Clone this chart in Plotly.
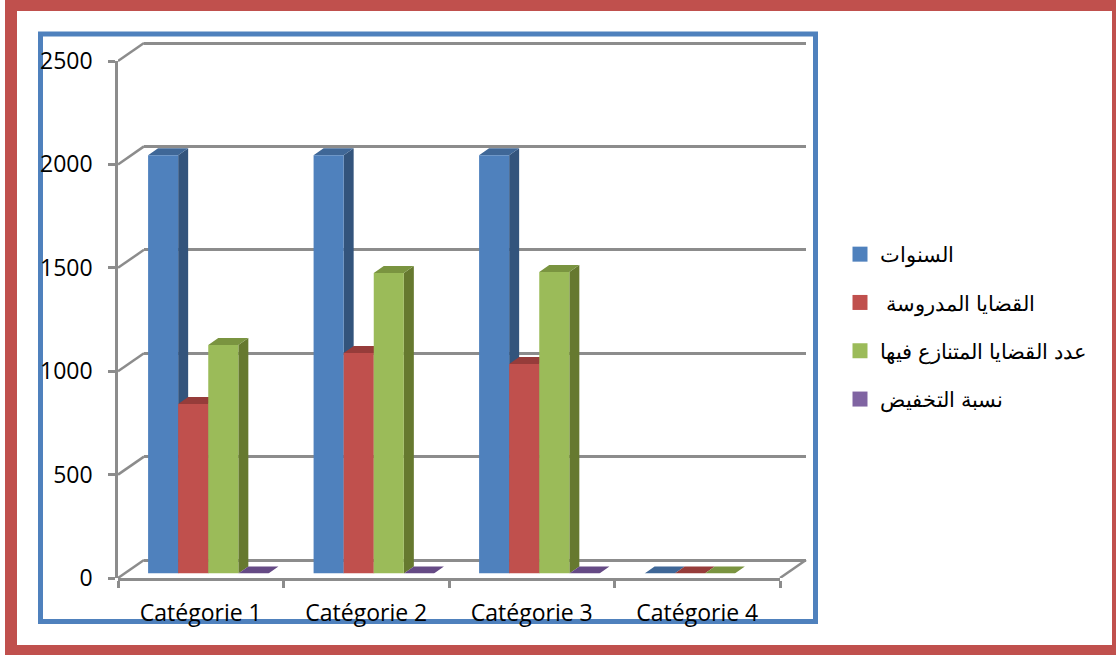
import plotly.graph_objects as go

categories = ["Catégorie 1", "Catégorie 2", "Catégorie 3", "Catégorie 4"]
series_names = ["السنوات", "\u00a0القضايا المدروسة", "عدد القضايا المتنازع فيها", "نسبة التخفيض"]
years = [2022, 2022, 2022, 0]
studied = [820, 1066, 1013, 0]
disputed = [1105, 1453, 1458, 0]
reduction = [0, 0, 0, None]
y_ticks = [0, 500, 1000, 1500, 2000, 2500]

front_colors = ["#4F81BD", "#C0504D", "#9BBB59", "#8064A2"]
side_colors = ["#33547C", "#7F3432", "#66792F", "#54416B"]
top_colors = ["#3F6797", "#963C3A", "#7A9440", "#654A85"]
GRID = "#8C8C8C"
W, H = 1116, 655
# front plane of the axes, in pixels
L, R, T, B = 118, 780, 61, 578
BAR_W = 0.1818
cat_px = (R - L) / 4
val_px = (B - T) / 2500


def dom(a, b, size):
    return [a / size, b / size]


def ydom(top, bottom):
    return [(H - bottom) / H, (H - top) / H]


def wall_axes(dx, dy):
    return dict(x=dom(L + dx, R + dx, W), y=ydom(T - dy, B - dy))


fig = go.Figure()

# diagonal edges of the left wall and the floor, on axes wide enough to hold them
dgx, dgy = [], []
wall_dx, wall_dy = 26 / cat_px, 18 / val_px
for v in y_ticks:
    dgx += [-0.5, -0.5 + wall_dx, None]
    dgy += [v, v + wall_dy, None]
dgx += [3.5, 3.5 + wall_dx, None]
dgy += [0, wall_dy, None]
fig.add_trace(go.Scatter(x=dgx, y=dgy, mode="lines", xaxis="x6", yaxis="y6",
                         line=dict(color=GRID, width=2.5), cliponaxis=False,
                         showlegend=False, hoverinfo="skip"))

# depth faces, computed from the values
depth_x, depth_y = 10 / cat_px, 7 / val_px
all_series = [years, studied, disputed, reduction]
for s, vals in enumerate(all_series):
    sx, sy, tx, ty = [], [], [], []
    for c, v in enumerate(vals):
        if v is None:
            continue
        x0 = c + (s - 2) * BAR_W
        x1 = x0 + BAR_W
        sx += [x1, x1 + depth_x, x1 + depth_x, x1, x1, None]
        sy += [0, depth_y, v + depth_y, v, 0, None]
        tx += [x0, x1, x1 + depth_x, x0 + depth_x, x0, None]
        ty += [v, v, v + depth_y, v + depth_y, v, None]
    for xs, ys, col in ((sx, sy, side_colors[s]), (tx, ty, top_colors[s])):
        fig.add_trace(go.Scatter(x=xs, y=ys, mode="lines", fill="toself", fillcolor=col,
                                 line=dict(width=0, color=col), xaxis="x3", yaxis="y3",
                                 cliponaxis=False, showlegend=False, hoverinfo="skip"))

# front faces
for s, vals in enumerate(all_series):
    fig.add_trace(go.Bar(x=categories, y=vals, name=series_names[s], xaxis="x4", yaxis="y4",
                         marker=dict(color=front_colors[s], line=dict(width=0)),
                         legendgroup=str(s), showlegend=False))
    fig.add_trace(go.Scatter(x=[None], y=[None], mode="markers", name=series_names[s],
                             xaxis="x4", yaxis="y4", legendgroup=str(s), hoverinfo="skip",
                             marker=dict(symbol="square", size=15, color=front_colors[s])))

# invisible anchors so the wall and front axes get drawn
fig.add_trace(go.Scatter(x=[0], y=[0], mode="markers", marker=dict(opacity=0),
                         xaxis="x", yaxis="y", showlegend=False, hoverinfo="skip"))
fig.add_trace(go.Scatter(x=[0], y=[0], mode="markers", marker=dict(opacity=0),
                         xaxis="x2", yaxis="y2", showlegend=False, hoverinfo="skip"))

hidden = dict(visible=False, fixedrange=True, automargin=False)
front = wall_axes(0, 0)
bars = wall_axes(7.5, 4.5)
# padded so the gridlines at 0 and 2500 are not dropped at the axis ends
PAD = 50
back_x = dom(L + 26, R + 26, W)
back_y = ydom(T - 18 - PAD * val_px, B - 18 + PAD * val_px)

fig.update_layout(
    template="none",
    width=W, height=H, autosize=False,
    margin=dict(l=0, r=0, t=0, b=0, autoexpand=False),
    paper_bgcolor="white", plot_bgcolor="rgba(0,0,0,0)",
    font=dict(family="Open Sans", size=23, color="black"),
    barmode="group", bargap=0.273, bargroupgap=0,
    xaxis=dict(domain=back_x, range=[0, 1], **hidden),
    yaxis=dict(domain=back_y, range=[-PAD, 2500 + PAD], tickvals=y_ticks, showgrid=True,
               gridcolor=GRID, gridwidth=2.5, zeroline=False, showline=False,
               showticklabels=False, ticks="", fixedrange=True, automargin=False),
    xaxis2=dict(domain=front["x"], anchor="y2", type="linear", range=[-0.5, 3.5],
                tickvals=[], showline=False, showgrid=False, zeroline=False, fixedrange=True,
                automargin=False),
    yaxis2=dict(domain=front["y"], anchor="x2", range=[0, 2500], tickvals=y_ticks,
                showgrid=False, zeroline=False, showline=True, linecolor=GRID, linewidth=2.5,
                ticks="outside", ticklen=7, tickwidth=2.5, tickcolor=GRID,
                ticklabelstandoff=11, fixedrange=True, automargin=False),
    xaxis3=dict(domain=bars["x"], anchor="y3", range=[-0.5, 3.5], **hidden),
    yaxis3=dict(domain=bars["y"], anchor="x3", range=[0, 2500], **hidden),
    xaxis4=dict(domain=bars["x"], anchor="y4", type="category", categoryorder="array",
                categoryarray=categories, range=[-0.5, 3.5], **hidden),
    yaxis4=dict(domain=bars["y"], anchor="x4", range=[0, 2500], **hidden),
    # front category axis: separate transparent axis with boundary ticks
    xaxis5=dict(domain=front["x"], anchor="y5", type="category", categoryorder="array",
                categoryarray=categories, range=[-0.5, 3.5], tickson="boundaries",
                showline=True, linecolor=GRID, linewidth=3, ticks="outside", ticklen=7,
                tickwidth=2.5, tickcolor=GRID, showgrid=False, zeroline=False,
                ticklabelstandoff=12, fixedrange=True, automargin=False),
    yaxis5=dict(domain=front["y"], anchor="x5", range=[0, 2500], **hidden),
    xaxis6=dict(domain=dom(L, R + 40, W), anchor="y6", range=[-0.5, 3.5 + 40 / cat_px], **hidden),
    yaxis6=dict(domain=ydom(T - 40, B), anchor="x6", range=[0, 2500 + 40 / val_px], **hidden),
    legend=dict(x=840 / W, xanchor="left", y=(H - 234) / H, yanchor="top",
                font=dict(family="Liberation Sans", size=21),
                tracegroupgap=18, traceorder="grouped", bgcolor="rgba(0,0,0,0)",
                itemclick=False, itemdoubleclick=False),
    shapes=[
        dict(type="rect", xref="paper", yref="paper", layer="below",
             x0=11 / W, x1=1118 / W, y0=(H - 651) / H, y1=(H - 5) / H,
             line=dict(color="#C0504D", width=12), fillcolor="white"),
        dict(type="rect", xref="paper", yref="paper", layer="below",
             x0=40.5 / W, x1=815.5 / W, y0=(H - 621.5) / H, y1=(H - 34) / H,
             line=dict(color="#4F81BD", width=5), fillcolor="white"),
    ],
)
fig.add_trace(go.Scatter(x=categories, y=[0, 0, 0, 0], mode="markers", marker=dict(opacity=0),
                         xaxis="x5", yaxis="y5", showlegend=False, hoverinfo="skip"))

fig.write_html("out.html", config=dict(displayModeBar=False),
               post_script="document.body.style.margin='0';document.body.style.overflow='hidden';")
